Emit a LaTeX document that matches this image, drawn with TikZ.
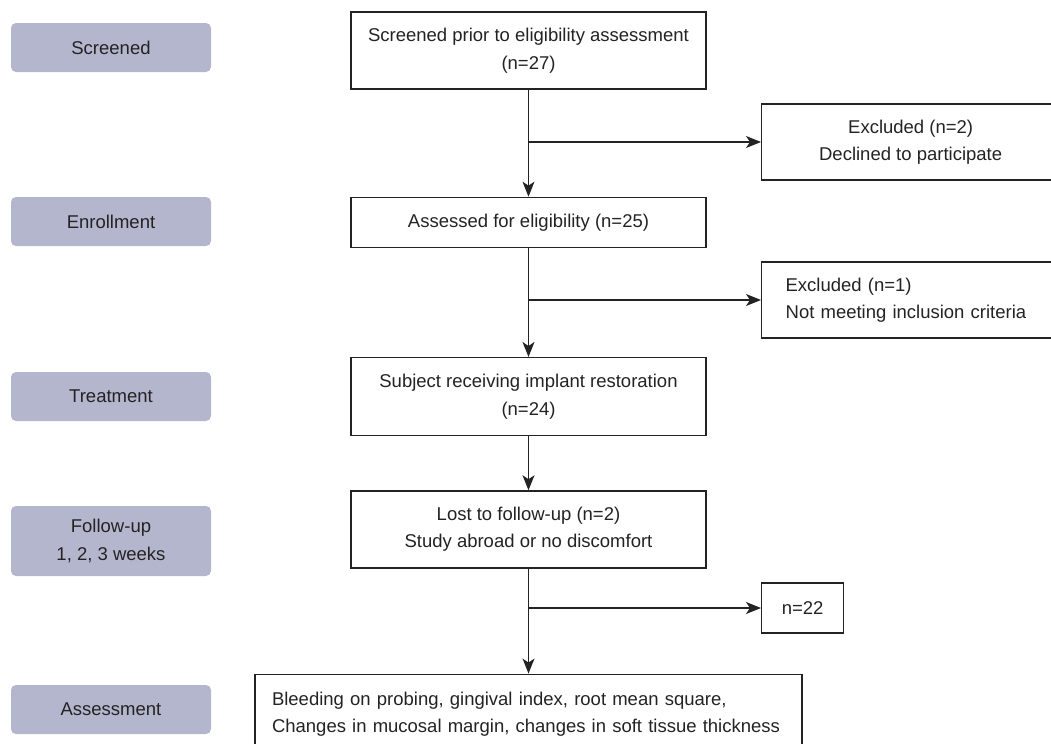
\documentclass[tikz,border=0pt]{standalone}
\usepackage{fontspec}
\setmainfont{Liberation Sans}
\usetikzlibrary{positioning, arrows.meta}
\definecolor{stagegray}{RGB}{180,182,206}
\definecolor{inkgray}{RGB}{35,35,35}

\begin{document}
\begin{tikzpicture}[
  x=0.5pt, y=-0.5pt,
  font=\fontsize{9.25}{13.75}\selectfont,
  stage/.style={rectangle, rounded corners=2.5pt, fill=stagegray, text=inkgray, minimum width=100pt, minimum height=24.5pt, align=center, inner sep=2pt},
  flowbox/.style={rectangle, draw=inkgray, line width=0.65pt, text=inkgray, minimum width=177.5pt, align=center, inner sep=2pt},
  sidebox/.style={rectangle, draw=inkgray, line width=0.65pt, text=inkgray, minimum height=38pt, anchor=west},
  arr/.style={-{Stealth[length=7.5pt, width=6pt, inset=2pt]}, line width=0.65pt, draw=inkgray}
]
  \useasboundingbox (0,0) rectangle (1051,744);
  % stages
  \node[stage] (sScr) at (111,47.5) {Screened};
  \node[stage] (sEnr) at (111,221.5) {Enrollment};
  \node[stage] (sTrt) at (111,396.5) {Treatment};
  \node[stage, minimum height=35pt] (sFol) at (111,541) {Follow-up\\1, 2, 3 weeks};
  \node[stage] (sAss) at (111,709.5) {Assessment};
  % main flow
  \node[flowbox, minimum height=38.5pt] (scr) at (528.5,50.5) {Screened prior to eligibility assessment\\(n=27)};
  \node[flowbox, minimum height=25pt, below=53.5pt of scr] (enr) {Assessed for eligibility (n=25)};
  \node[flowbox, minimum height=39pt, below=54.5pt of enr] (trt) {Subject receiving implant restoration\\(n=24)};
  \node[flowbox, minimum height=38.5pt, below=27pt of trt] (lost) {Lost to follow-up (n=2)\\Study abroad or no discomfort};
  \node[flowbox, minimum width=0pt, minimum height=40pt, text width=256.5pt, align=left, inner xsep=8.5pt, below=52.5pt of lost] (ass) {Bleeding on probing, gingival index, root mean square,\\Changes in mucosal margin, changes in soft tissue thickness};
  % side boxes
  \node[sidebox, minimum width=149pt, align=center] (ex1) at (761,142) {Excluded (n=2)\\Declined to participate};
  \node[sidebox, text width=125pt, align=left, inner xsep=12pt] (ex2) at (761,300) {Excluded (n=1)\\Not meeting inclusion criteria};
  \node[sidebox, minimum width=41pt, minimum height=25pt] (fin) at (761,608) {n=22};
  \draw[arr] (scr) -- (enr);
  \draw[arr] (enr) -- (trt);
  \draw[arr] (trt) -- (lost);
  \draw[arr] (lost) -- (ass);
  \draw[arr] (scr.south |- ex1.west) -- (ex1.west);
  \draw[arr] (enr.south |- ex2.west) -- (ex2.west);
  \draw[arr] (lost.south |- fin.west) -- (fin.west);
\end{tikzpicture}
\end{document}
